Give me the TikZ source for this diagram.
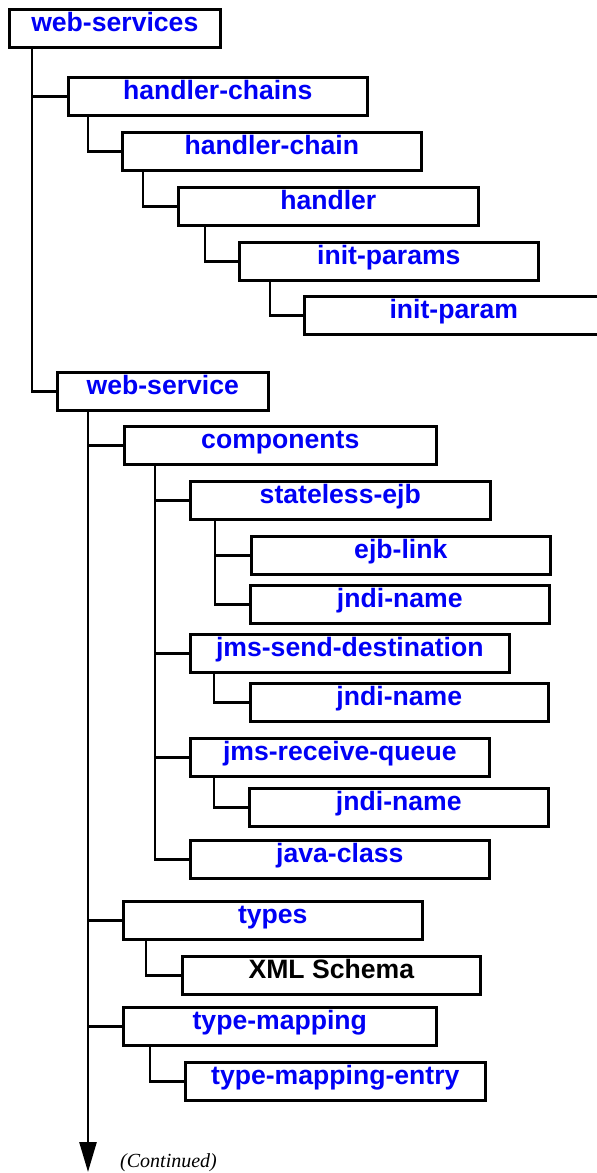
\documentclass[tikz,border=0pt]{standalone}
\usepackage{fontspec}
\setmainfont{Liberation Sans}
\newfontfamily\contfont{Liberation Serif}
\usetikzlibrary{arrows.meta}
\definecolor{tagblue}{RGB}{0,0,245}
\begin{document}
\begin{tikzpicture}[x=1pt,y=-1pt,
  tagbox/.style={draw=black, line width=2.6pt, anchor=north west, inner xsep=0pt, inner ysep=0pt,
    text height=22.5pt, text depth=15.5pt, align=center,
    font=\fontsize{26.6}{30}\selectfont\bfseries, text=tagblue},
  plainbox/.style={tagbox, text=black},
  conn/.style={draw=black, line width=2.6pt}]
\useasboundingbox (0,0) rectangle (597,1173);
% boxes
\node[tagbox, minimum width=211pt] (ws)    at (8,8)     {web-services};
\node[tagbox, minimum width=299pt] (hcs)   at (67,76)   {handler-chains};
\node[tagbox, minimum width=299pt] (hc)    at (121,131) {handler-chain};
\node[tagbox, minimum width=300pt] (h)     at (177,186) {handler};
\node[tagbox, minimum width=299pt] (ips)   at (238,241) {init-params};
\node[tagbox, minimum width=299pt] (ip)    at (303,295) {init-param};
\node[tagbox, minimum width=211pt] (wsv)   at (56,371)  {web-service};
\node[tagbox, minimum width=312pt] (comp)  at (123,425) {components};
\node[tagbox, minimum width=300pt] (sejb)  at (189,480) {stateless-ejb};
\node[tagbox, minimum width=299pt] (ejbl)  at (250,535) {ejb-link};
\node[tagbox, minimum width=299pt] (jndia) at (249,584) {jndi-name};
\node[tagbox, minimum width=319pt] (jsd)   at (189,633) {jms-send-destination};
\node[tagbox, minimum width=298pt] (jndib) at (249,682) {jndi-name};
\node[tagbox, minimum width=299pt] (jrq)   at (189,737) {jms-receive-queue};
\node[tagbox, minimum width=299pt] (jndic) at (248,787) {jndi-name};
\node[tagbox, minimum width=299pt] (jc)    at (189,839) {java-class};
\node[tagbox, minimum width=299pt] (types) at (122,900) {types};
\node[plainbox, minimum width=298pt] (xml) at (181,955) {XML Schema};
\node[tagbox, minimum width=313pt] (tm)    at (122,1006) {type-mapping};
\node[tagbox, minimum width=300pt] (tme)   at (184,1061) {type-mapping-entry};
% connectors
\draw[conn] ([xshift=24pt]ws.south west) |- (hcs.west);
\draw[conn] ([xshift=24pt]ws.south west) |- (wsv.west);
\draw[conn] ([xshift=21pt]hcs.south west) |- (hc.west);
\draw[conn] ([xshift=22pt]hc.south west) |- (h.west);
\draw[conn] ([xshift=28pt]h.south west) |- (ips.west);
\draw[conn] ([xshift=32pt]ips.south west) |- (ip.west);
\draw[conn] ([xshift=32pt]wsv.south west) |- (comp.west);
\draw[conn] ([xshift=32pt]wsv.south west) |- (types.west);
\draw[conn] ([xshift=32pt]wsv.south west) |- (tm.west);
\draw[conn] ([xshift=32pt]comp.south west) |- (sejb.west);
\draw[conn] ([xshift=32pt]comp.south west) |- (jsd.west);
\draw[conn] ([xshift=32pt]comp.south west) |- (jrq.west);
\draw[conn] ([xshift=32pt]comp.south west) |- (jc.west);
\draw[conn] ([xshift=26pt]sejb.south west) |- (ejbl.west);
\draw[conn] ([xshift=26pt]sejb.south west) |- (jndia.west);
\draw[conn] ([xshift=25pt]jsd.south west) |- (jndib.west);
\draw[conn] ([xshift=25pt]jrq.south west) |- (jndic.west);
\draw[conn] ([xshift=24pt]types.south west) |- (xml.west);
\draw[conn] ([xshift=28pt]tm.south west) |- (tme.west);
% continuation arrow
\coordinate (cend) at (88,1172);
\draw[conn, -{Triangle[length=30pt,width=17pt]}] ([xshift=32pt]wsv.south west) -- (cend);
\node[anchor=base west, inner sep=0pt, font=\contfont\itshape\fontsize{20}{24}\selectfont] (cont) at (120,1167) {(Continued)};
\end{tikzpicture}
\end{document}
